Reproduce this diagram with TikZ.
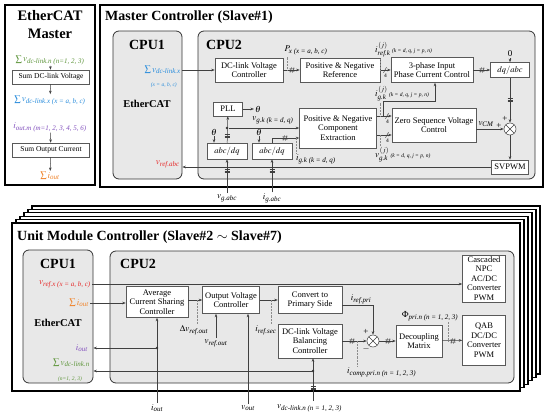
\documentclass[tikz,border=0pt]{standalone}
\usepackage{amsmath}
\usepackage{mathptmx}
\usepackage{fontspec}
\setmainfont{Liberation Serif}
\usetikzlibrary{arrows.meta}

\definecolor{cgreen}{RGB}{95,150,60}
\definecolor{cblue}{RGB}{40,140,220}
\definecolor{cpurple}{RGB}{130,80,190}
\definecolor{corange}{RGB}{240,130,40}
\definecolor{cred}{RGB}{230,40,40}

\newcommand{\cnd}[1]{{\fontsize{5.5}{6}\selectfont\itshape #1}}

\tikzset{
  every node/.style={font=\fontsize{8.5}{9.5}\selectfont},
  outfr/.style={draw=black, fill=white, line width=1.3pt},
  cpu/.style={draw=black!80, fill=black!9, rounded corners=6pt, line width=0.8pt},
  blk/.style={draw=black!65, fill=white, line width=0.5pt, align=center, inner sep=1pt},
  ttl/.style={font=\fontsize{14}{17}\selectfont\bfseries, align=center, inner sep=0pt},
  ecat/.style={font=\fontsize{10.5}{12}\selectfont\bfseries, inner sep=0pt},
  lbl/.style={inner sep=1pt, font=\fontsize{9}{10}\selectfont},
  sig/.style={draw=black!75, line width=0.5pt, -{Stealth[length=3.5pt,width=2.6pt]}},
  ptr/.style={draw=black!45, densely dotted, line width=0.45pt},
  jdot/.style={circle, fill=black!80, inner sep=0pt, minimum size=2.6pt},
  sumj/.style={circle, draw=black!75, fill=white, minimum size=12pt, inner sep=0pt, line width=0.5pt,
    path picture={\draw[black!75, line width=0.5pt]
      (path picture bounding box.north west) -- (path picture bounding box.south east)
      (path picture bounding box.north east) -- (path picture bounding box.south west);}},
  hsh/.pic={\draw[black!75, line width=0.45pt] (-2,2.6) -- (-0.6,-2.6) (0.6,2.6) -- (2,-2.6)
      (-2.6,-1.2) -- (2.4,-1.2) (-2.4,1.2) -- (2.6,1.2);},
  bus/.pic={\draw[black!75, line width=0.45pt] (-2.5,-1.4) -- (2.5,-1.4) (-2.5,0) -- (2.5,0) (-2.5,1.4) -- (2.5,1.4);},
  fr4/.pic={\draw[black!75, line width=0.45pt] (-1.5,2.8) -- (1.5,-2.8);
      \node[font=\fontsize{5.5}{6}\selectfont, inner sep=0pt] (n4) at (0.5,6) {4};},
}

\begin{document}
\begin{tikzpicture}[x=1pt,y=-1pt]
\useasboundingbox (0,0) rectangle (550,418);

% EtherCAT master
\draw[outfr] (5,5) rectangle (95,185);
\node[ttl, font=\fontsize{14.5}{18}\selectfont\bfseries] (emt) at (50,25) {EtherCAT\\Master};
\node[lbl, text=cgreen] (evn) at (50,60) {$\sum v_{\textit{dc-link.n (n=1, 2, 3)}}$};
\node[blk, minimum width=77, minimum height=14, font=\fontsize{7.5}{8.5}\selectfont] (sdv) at (51,77) {Sum DC-link Voltage};
\node[lbl, text=cblue] (evx) at (50,100) {$\sum v_{\textit{dc-link.x (x = a, b, c)}}$};
\node[lbl, text=cpurple] (eio) at (50,127) {$i_{\textit{out.m (m=1, 2, 3, 4, 5, 6)}}$};
\node[blk, minimum width=77, minimum height=14, font=\fontsize{7.5}{8.5}\selectfont] (soc) at (51,150) {Sum Output Current};
\node[lbl, text=corange] (esi) at (50,176) {$\sum i_{\textit{out}}$};
\draw[sig] (evn) -- (sdv);
\draw[sig] (sdv) -- (evx);
\draw[sig] (eio) -- (soc);
\draw[sig] (soc) -- (esi);

% master controller
\draw[outfr] (100,5) rectangle (543,187);
\node[ttl, anchor=west] (mct) at (105,17) {Master Controller (Slave\#1)};
\node[cpu, minimum width=69, minimum height=148] (mc1) at (147.5,105) {};
\node[cpu, minimum width=337, minimum height=148] (mc2) at (366.5,105) {};
\node[ttl] (mc1t) at (147,45) {CPU1};
\node[ttl, anchor=west] (mc2t) at (206,45) {CPU2};
\node[ecat] (mec) at (147,104) {EtherCAT};
\node[lbl, text=cblue, anchor=east] (mvx) at (182,70) {$\sum v_{\textit{dc-link.x}}$};
\node[lbl, text=cblue, anchor=east] (mvxs) at (178,85) {\cnd{(x = a, b, c)}};
\node[lbl, text=cred, anchor=east] (mvr) at (181,164) {$v_{\textit{ref.abc}}$};

\node[blk, minimum width=68, minimum height=24] (dcv) at (249,70) {DC-link Voltage\\Controller};
\node[blk, minimum width=80, minimum height=24] (pnr) at (340,70) {Positive \& Negative\\Reference};
\node[blk, minimum width=82, minimum height=25] (ipc) at (432,70) {3-phase Input\\Phase Current Control};
\node[blk, minimum width=39, minimum height=15] (dqa) at (510,70) {$dq/abc$};
\node[blk, minimum width=77, minimum height=40] (pne) at (338,128) {Positive \& Negative\\Component\\Extraction};
\node[blk, minimum width=84, minimum height=34] (zsv) at (434,125) {Zero Sequence Voltage\\Control};
\node[blk, minimum width=37, minimum height=14] (svp) at (510,167) {SVPWM};
\node[blk, minimum width=29, minimum height=14] (pll) at (228,109) {PLL};
\node[blk, minimum width=40, minimum height=16] (ad1) at (227,151) {$abc/dq$};
\node[blk, minimum width=40, minimum height=16] (ad2) at (272,151) {$abc/dq$};
\node[sumj] (msum) at (510,129) {};

\node[lbl] (th0) at (258,109) {$\theta$};
\node[lbl] (th1) at (214,132) {$\theta$};
\node[lbl] (th2) at (259,132) {$\theta$};
\node[lbl] (zr0) at (510,54) {0};
\node[lbl] (px) at (306,50) {$P_{\textit{x (x = a, b, c)}}$};
\node[lbl, anchor=west] (irk) at (374,50) {$i_{\textit{ref.k}}^{\,(j)}$\,\cnd{(k = d, q, j = p, n)}};
\node[lbl] (vgk) at (273,120) {$v_{\textit{g.k (k = d, q)}}$};
\node[lbl] (igk) at (316,159) {$i_{\textit{g.k (k = d, q)}}$};
\node[lbl, anchor=west] (igj) at (374,94) {$i_{\textit{g.k}}^{\,(j)}$\,\cnd{(k = d, q, j = p, n)}};
\node[lbl, anchor=west] (vgj) at (374,155) {$v_{\textit{g.k}}^{\,(j)}$\,\cnd{(k = d, q, j = p, n)}};
\node[lbl] (vcm) at (486,124) {$v_{\textit{CM}}$};
\node[lbl] (pl1) at (499,126) {+};
\node[lbl] (pl2) at (505,119) {+};
\node[lbl] (vga) at (227,198) {$v_{\textit{g.abc}}$};
\node[lbl] (iga) at (272,198) {$i_{\textit{g.abc}}$};

\draw[sig] (mvx.east) -- (mvx.east -| dcv.west);
\draw[sig] (dcv) -- (pnr);
\pic at (292,70) {hsh};
\coordinate (pxp) at (287,70);
\draw[ptr] (pxp) -- (pxp |- px.south);
\draw[sig] (pnr) -- (ipc);
\pic at (385,70) {fr4};
\coordinate (irp) at (380,70);
\draw[ptr] (irp) -- (irp |- irk.south);
\draw[sig] (ipc) -- (dqa);
\pic at (482,70) {hsh};
\draw[sig] (zr0) -- (dqa);
\draw[sig] (dqa) -- (msum);
\pic at (510,100) {bus};
\draw[sig] (msum) -- (svp);
\draw[sig] (zsv.east |- msum) -- (msum);
\draw[sig] (svp) -- (svp -| mc1.east);

\draw[sig] (pll) -- (th0);
\draw[sig] (th1) -- (th1 |- ad1.north);
\draw[sig] (th2) -- (th2 |- ad2.north);
\draw[sig] (ad1) -- (pll);
\pic at (227,136) {bus};
\node[jdot] (jd1) at (227,128) {};
\draw[sig] (jd1) -- (jd1 -| pne.west);
\coordinate (ad2k) at (272,138);
\draw[sig] (ad2.north) -- (ad2k) -- (ad2k -| pne.west);
\pic at (285,138) {hsh};
\coordinate (igp) at (296,138);
\draw[ptr] (igp) -- (igp |- igk.north);
\draw[sig] (vga) -- (ad1);
\pic at (227,171) {bus};
\draw[sig] (iga) -- (ad2);
\pic at (272,171) {bus};

\coordinate (zu) at (383,116);
\coordinate (zl) at (383,135);
\coordinate (br) at (435,101);
\draw[sig] (zu -| pne.east) -- (zu -| zsv.west);
\pic at (387,116) {fr4};
\draw[sig] (zl -| pne.east) -- (zl -| zsv.west);
\pic at (387,135) {fr4};
\draw[sig] (zu) -- (zu |- br) -- (br) -- (br |- ipc.south);
\coordinate (igjp) at (380,116);
\draw[ptr] (igjp) -- (igjp |- igj.south);
\coordinate (vgjp) at (380,135);
\draw[ptr] (vgjp) -- (vgjp |- vgj.north);

% unit module controllers
\foreach \k in {5,...,1}
  \draw[outfr] ({12+4*\k},{223-3.4*\k}) rectangle ({520+4*\k},{391-3.4*\k});
\draw[outfr] (12,223) rectangle (520,391);
\node[ttl, anchor=west] (umt) at (17,237) {Unit Module Controller (Slave\#2 $\sim$ Slave\#7)};
\node[cpu, minimum width=70, minimum height=133] (uc1) at (58,316.5) {};
\node[cpu, minimum width=404, minimum height=132] (uc2) at (312,317) {};
\node[ttl] (uc1t) at (58,264) {CPU1};
\node[ttl, anchor=west] (uc2t) at (120,264) {CPU2};
\node[ecat] (uec) at (58,323) {EtherCAT};
\node[lbl, text=cred, anchor=east] (uvr) at (92,284) {$v_{\textit{ref.x (x = a, b, c)}}$};
\node[lbl, text=corange, anchor=east] (usi) at (90,303) {$\sum i_{\textit{out}}$};
\node[lbl, text=cpurple, anchor=east] (uip) at (89,348) {$i_{\textit{out}}$};
\node[lbl, text=cgreen, anchor=east] (uvs) at (91,363) {$\sum v_{\textit{dc-link.n}}$};
\node[lbl, text=cgreen] (uvn) at (70,379) {\cnd{(n=1, 2, 3)}};

\node[blk, minimum width=62, minimum height=31] (acs) at (157,302) {Average\\Current Sharing\\Controller};
\node[blk, minimum width=57, minimum height=27] (ovc) at (231,300) {Output Voltage\\Controller};
\node[blk, minimum width=64, minimum height=27] (cps) at (310,300) {Convert to\\Primary Side};
\node[blk, minimum width=64, minimum height=34] (dvb) at (310,341) {DC-link Voltage\\Balancing\\Controller};
\node[sumj] (us) at (373,341) {};
\node[blk, minimum width=46, minimum height=32] (dcm) at (419,341) {Decoupling\\Matrix};
\node[blk, minimum width=43, minimum height=50] (qab) at (484,340) {QAB\\DC/DC\\Converter\\PWM};
\node[blk, minimum width=43, minimum height=47] (npc) at (484,278.5) {Cascaded\\NPC\\AC/DC\\Converter\\PWM};

\node[lbl] (dvr) at (194,330) {$\Delta v_{\textit{ref.out}}$};
\node[lbl] (vro) at (216,343) {$v_{\textit{ref.out}}$};
\node[lbl] (irs) at (266,330) {$i_{\textit{ref.sec}}$};
\node[lbl] (irpr) at (361,299) {$i_{\textit{ref.pri}}$};
\node[lbl] (pl3) at (366,332) {+};
\node[lbl] (mn1) at (366,349) {$-$};
\node[lbl, anchor=west] (icm) at (346,372) {$i_{\textit{comp.pri.n (n = 1, 2, 3)}}$};
\node[lbl] (phi) at (430,316) {$\Phi_{\textit{pri.n (n = 1, 2, 3)}}$};
\node[lbl] (uio) at (157,408) {$i_{\textit{out}}$};
\node[lbl] (uvo) at (248,408) {$v_{\textit{out}}$};
\node[lbl, anchor=west] (uvd) at (276,408) {$v_{\textit{dc-link.n (n = 1, 2, 3)}}$};

\draw[sig] (uvr.east) -- (uvr.east -| npc.west);
\draw[sig] (usi.east) -- (usi.east -| acs.west);
\draw[sig] (acs.east |- ovc) -- (ovc);
\coordinate (dvp) at (197,300);
\draw[ptr] (dvp) -- (dvp |- dvr.north);
\draw[sig] (vro) -- (vro |- ovc.south);
\draw[sig] (ovc) -- (cps);
\coordinate (isp) at (271,300);
\draw[ptr] (isp) -- (isp |- irs.north);
\draw[sig] ([yshift=-5pt]cps.east) -| (us);
\draw[sig] (dvb) -- (us);
\pic at (352,341) {hsh};
\coordinate (icp) at (357,341);
\draw[ptr] (icp) -- (icp |- icm.north);
\draw[sig] (us) -- (dcm);
\pic at (388,341) {hsh};
\draw[sig] (dcm) -- (qab);
\pic at (453,341) {hsh};
\coordinate (php) at (448,341);
\draw[ptr] (php) -- (php |- phi.south);

\draw[sig] (uio) -- (uio |- acs.south);
\node[jdot] (jd2) at (157,348) {};
\draw[sig] (jd2) -- (jd2 -| uc1.east);
\draw[sig] (uvo) -- (uvo |- ovc.south);
\coordinate (uvdp) at (313,401);
\draw[sig] (uvdp) -- (uvdp |- dvb.south);
\pic at (313,388) {bus};
\node[jdot] (jd3) at (313,371) {};
\draw[sig] (jd3) -- (jd3 -| uc1.east);
\end{tikzpicture}
\end{document}
